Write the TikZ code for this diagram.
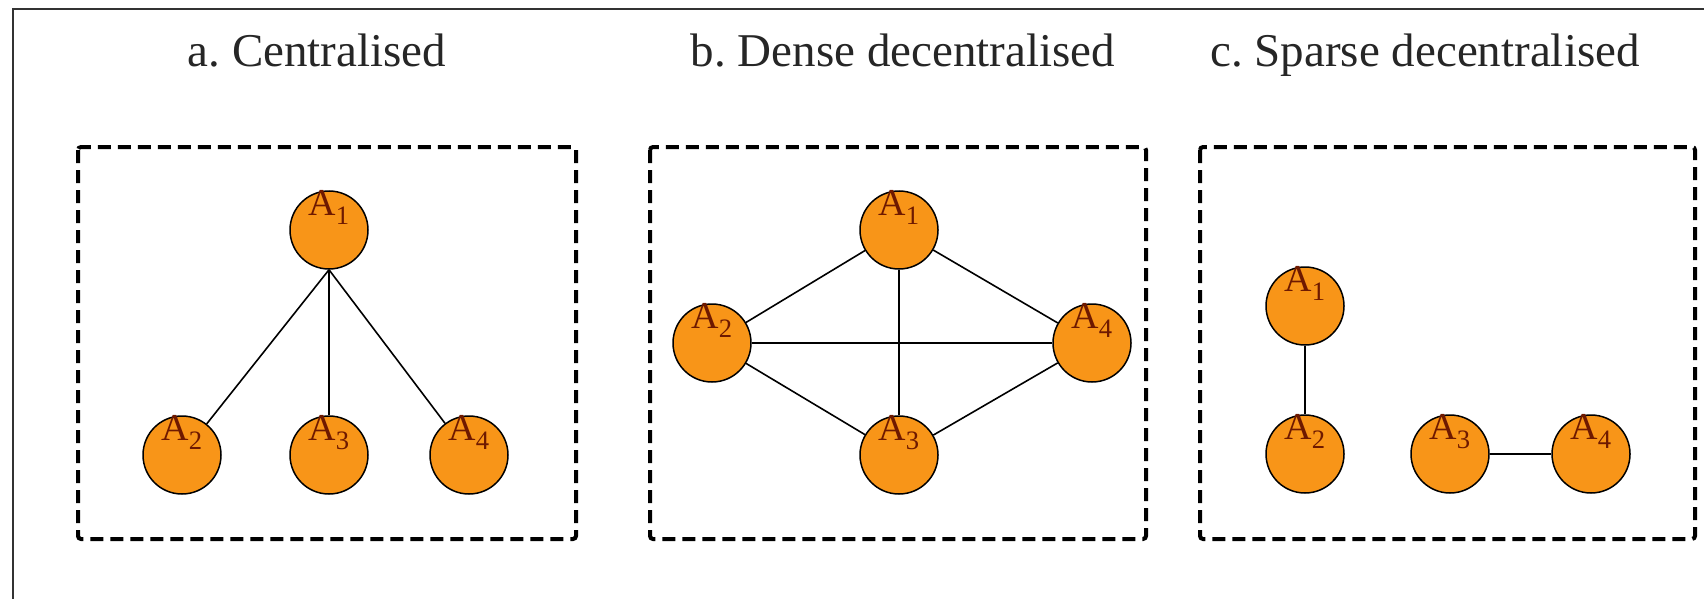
\documentclass[tikz,border=0pt]{standalone}
\usepackage{fontspec}
\setmainfont{Liberation Serif}
\usetikzlibrary{positioning}
\definecolor{agentfill}{RGB}{248,149,24}
\definecolor{agenttext}{RGB}{110,25,0}
\tikzset{%
  agent/.style={circle, draw=black, line width=1.5pt, fill=agentfill, minimum size=78pt, inner sep=0pt},
  agentlabel/.style={anchor=north, inner sep=0pt, text=agenttext, font=\fontsize{38}{40}\selectfont},
  link/.style={line width=1.6pt},
  groupbox/.style={draw=black, line width=4pt, dash pattern=on 13pt off 7pt, rounded corners=3pt},
  caption/.style={anchor=base, text=black!85, font=\fontsize{47}{50}\selectfont}
}

\begin{document}
\begin{tikzpicture}[x=1pt, y=-1pt]
  \useasboundingbox (0,0) rectangle (1704,599);
  \draw [black!80, line width=2pt] (13,640) |- (1740,9);
  \node[caption] (capa) at (317,67) {a.\ Centralised};
  \node[caption] (capb) at (903,67) {b.\ Dense decentralised};
  \node[caption] (capc) at (1425,67) {c.\ Sparse decentralised};
  \draw [groupbox] (78,147) rectangle (576,539);
  \draw [groupbox] (650,147) rectangle (1146,539);
  \draw [groupbox] (1200,147) rectangle (1695,539);

  \node[agent, label={[agentlabel]north:A\textsubscript{1}}] (a1) at (329,230) {};
  \node[agent, label={[agentlabel]north:A\textsubscript{2}}] (a2) at (182,455) {};
  \node[agent, label={[agentlabel]north:A\textsubscript{3}}] (a3) at (a1 |- a2) {};
  \node[agent, label={[agentlabel]north:A\textsubscript{4}}] (a4) at (469,455) {};
  \draw [link] (a1.south) -- (a2);
  \draw [link] (a1.south) -- (a3);
  \draw [link] (a1.south) -- (a4);

  \node[agent, label={[agentlabel]north:A\textsubscript{1}}] (b1) at (899,230) {};
  \node[agent, label={[agentlabel]north:A\textsubscript{2}}] (b2) at (712,343) {};
  \node[agent, label={[agentlabel]north:A\textsubscript{3}}] (b3) at (899,455) {};
  \node[agent, label={[agentlabel]north:A\textsubscript{4}}] (b4) at (1092,343) {};
  \draw [link] (b1) -- (b2);
  \draw [link] (b1) -- (b3);
  \draw [link] (b1) -- (b4);
  \draw [link] (b2) -- (b3);
  \draw [link] (b2) -- (b4);
  \draw [link] (b3) -- (b4);

  \node[agent, label={[agentlabel]north:A\textsubscript{1}}] (c1) at (1305,306) {};
  \node[agent, label={[agentlabel]north:A\textsubscript{2}}] (c2) at (1305,454) {};
  \node[agent, label={[agentlabel]north:A\textsubscript{3}}] (c3) at (1450,454) {};
  \node[agent, label={[agentlabel]north:A\textsubscript{4}}] (c4) at (1591,454) {};
  \draw [link] (c1) -- (c2);
  \draw [link] (c3) -- (c4);
\end{tikzpicture}
\end{document}
